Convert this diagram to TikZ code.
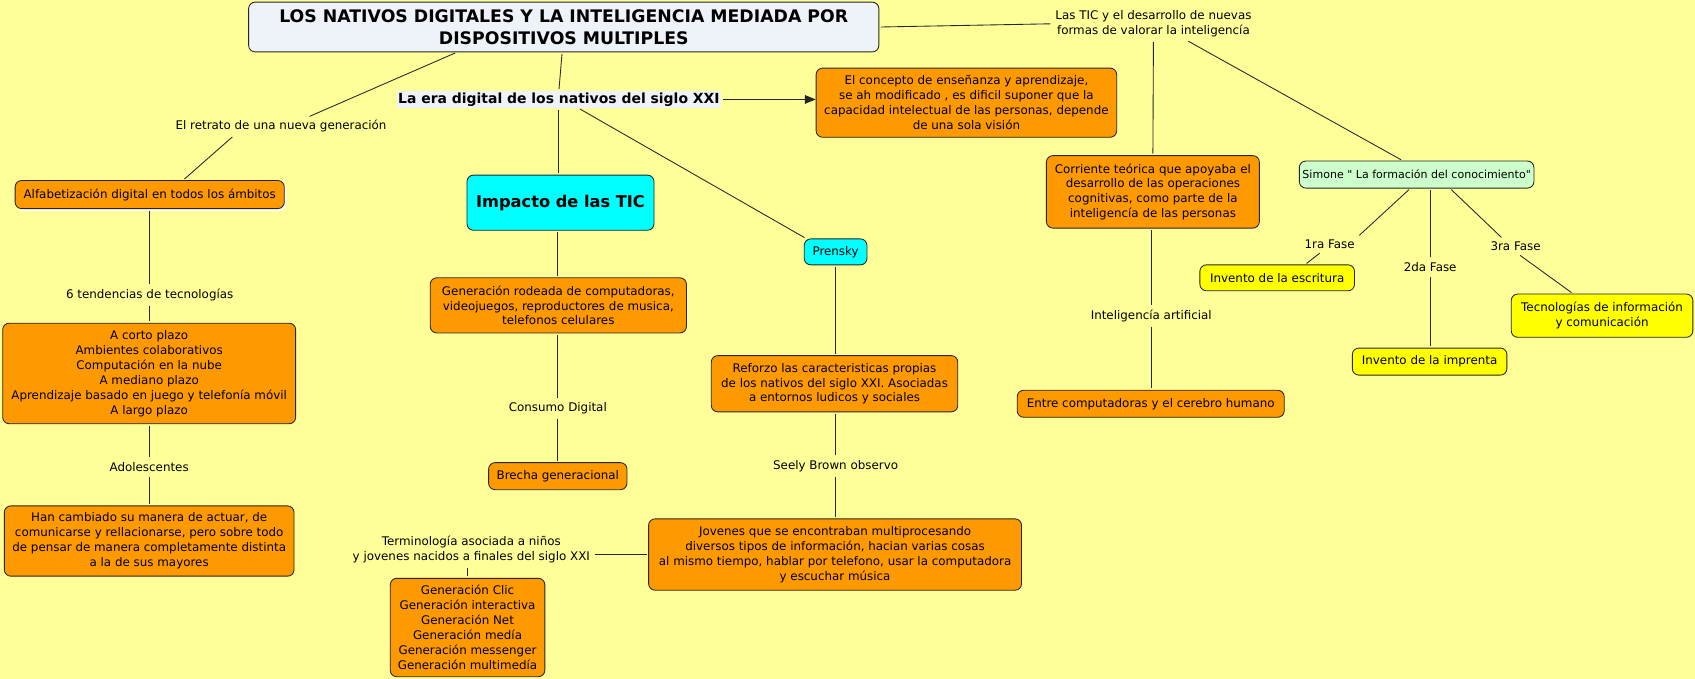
\documentclass[tikz,border=0pt]{standalone}
\usepackage{fontspec}
\setmainfont{DejaVu Sans}[Ligatures=TeXOff]
\usetikzlibrary{arrows.meta,shadows}
\definecolor{bg}{HTML}{FFFF99}
\definecolor{org}{HTML}{FF9900}
\definecolor{cy}{HTML}{00FFFF}
\definecolor{yel}{HTML}{FFFF00}
\definecolor{grn}{HTML}{CCFFCC}
\definecolor{ttl}{HTML}{EEF3FA}
\begin{document}
\begin{tikzpicture}[x=1pt,y=-1pt,
  every node/.style={font=\fontsize{11}{13.8}\selectfont, align=center, inner sep=0pt},
  cbox/.style={draw=black!85, line width=0.8pt, rounded corners=6pt, fill=org},
  lbl/.style={inner sep=3pt},
  conn/.style={draw=black!85, line width=0.8pt, shorten <=1.5pt, shorten >=1.5pt},
]
\fill[bg] (0,0) rectangle (1568,628);
\useasboundingbox (0,0) rectangle (1568,628);

\node[cbox, fill=ttl, minimum width=583pt, minimum height=46pt, font=\bfseries\fontsize{16}{20}\selectfont] (title) at (521.5,25) {LOS NATIVOS DIGITALES Y LA INTELIGENCIA MEDIADA POR\\DISPOSITIVOS MULTIPLES};
\node[fill=ttl, inner sep=1.5pt, font=\bfseries\fontsize{12.9}{15}\selectfont] (era) at (517,92) {La era digital de los nativos del siglo XXI};

\node[lbl] (retrato) at (260,117) {El retrato de una nueva generación};
\node[cbox, minimum width=249pt, minimum height=26pt, general shadow={fill=white, shadow xshift=2pt, shadow yshift=-2pt}] (alfa) at (138.5,180) {Alfabetización digital en todos los ámbitos};
\node[lbl] (tend) at (138.5,273) {6 tendencias de tecnologías};
\node[cbox, minimum width=271pt, minimum height=93pt] (corto) at (138,345.5) {A corto plazo\\Ambientes colaborativos\\Computación en la nube\\A mediano plazo\\Aprendizaje basado en juego y telefonía móvil\\A largo plazo};
\node[lbl] (adol) at (138,432) {Adolescentes};
\node[cbox, minimum width=268pt, minimum height=65pt] (han) at (138,500.5) {Han cambiado su manera de actuar, de\\comunicarse y rellacionarse, pero sobre todo\\de pensar de manera completamente distinta\\a la de sus mayores};

\node[cbox, fill=cy, minimum width=173pt, minimum height=51pt, font=\bfseries\fontsize{15}{18}\selectfont] (impacto) at (518.5,187.5) {Impacto de las TIC};
\node[cbox, minimum width=237pt, minimum height=51pt] (rodeada) at (516.5,282.5) {Generación rodeada de computadoras,\\videojuegos, reproductores de musica,\\telefonos celulares};
\node[lbl] (consumo) at (516,378) {Consumo Digital};
\node[cbox, minimum width=128pt, minimum height=25pt] (brecha) at (516,440.5) {Brecha generacional};

\node[cbox, fill=cy, minimum width=58pt, minimum height=24pt] (prensky) at (773,233) {Prensky};
\node[cbox, minimum width=228pt, minimum height=52pt] (reforzo) at (772,355) {Reforzo las caracteristicas propias\\de los nativos del siglo XXI. Asociadas\\a entornos ludicos y sociales};
\node[lbl] (seely) at (773,431) {Seely Brown observo};
\node[cbox, minimum width=345pt, minimum height=66pt] (jovenes) at (772.5,513) {Jovenes que se encontraban multiprocesando\\diversos tipos de información, hacian varias cosas\\al mismo tiempo, hablar por telefono, usar la computadora\\y escuchar música};
\node[lbl] (termino) at (436,508) {Terminología asociada a niños\\y jovenes nacidos a finales del siglo XXI};
\node[cbox, minimum width=143pt, minimum height=91pt] (clic) at (432.5,580.5) {Generación Clic\\Generación interactiva\\Generación Net\\Generación medía\\Generación messenger\\Generación multimedía};

\node[cbox, minimum width=278pt, minimum height=64pt] (concepto) at (894,95) {El concepto de enseñanza y aprendizaje,\\se ah modificado , es dificil suponer que la\\capacidad intelectual de las personas, depende\\de una sola visión};

\node[lbl] (lastic) at (1067,22) {Las TIC y el desarrollo de nuevas\\formas de valorar la inteligencía};
\node[cbox, minimum width=197pt, minimum height=67pt] (corriente) at (1066.5,177.5) {Corriente teórica que apoyaba el\\desarrollo de las operaciones\\cognitivas, como parte de la\\inteligencía de las personas};
\node[lbl] (ia) at (1065,292) {Inteligencía artificial};
\node[cbox, minimum width=247pt, minimum height=25pt] (entre) at (1064.5,373.5) {Entre computadoras y el cerebro humano};
\node[cbox, fill=grn, minimum width=217pt, minimum height=25pt, font=\fontsize{10.2}{13}\selectfont] (simone) at (1310.5,161.5) {Simone " La formación del conocimiento"};
\node[lbl] (f1) at (1230,226) {1ra Fase};
\node[lbl] (f2) at (1323,247) {2da Fase};
\node[lbl] (f3) at (1402,228) {3ra Fase};
\node[cbox, fill=yel, minimum width=143pt, minimum height=24pt] (escritura) at (1181.5,257) {Invento de la escritura};
\node[cbox, fill=yel, minimum width=143pt, minimum height=25pt] (imprenta) at (1322.5,334.5) {Invento de la imprenta};
\node[cbox, fill=yel, minimum width=168pt, minimum height=40pt] (tecno) at (1482,292) {Tecnologías de información\\y comunicación};

\draw[conn] ([xshift=-99pt]title.south) -- ([xshift=25pt]retrato.north);
\draw[conn] ([xshift=-44pt]retrato.south) -- ([xshift=31pt]alfa.north);
\draw[conn] ([xshift=-1.5pt]title.south) -- (era.north);
\draw[conn] (era.south) -- (era.south |- impacto.north);
\draw[conn, shorten >=0pt, -{Triangle[length=10pt,width=8pt]}] (era.east) -- (era.east -| concepto.west);
\draw[conn] ([xshift=18pt]era.south) -- ([xshift=2pt]prensky.north west);
\draw[conn] (tend.north |- alfa.south) -- (tend.north);
\draw[conn] (tend.south) -- (tend.south |- corto.north);
\draw[conn] (adol.north |- corto.south) -- (adol.north);
\draw[conn] (adol.south) -- (adol.south |- han.north);
\draw[conn] (consumo.north |- impacto.south) -- (consumo.north |- rodeada.north);
\draw[conn] (consumo.north |- rodeada.south) -- (consumo.north);
\draw[conn] (consumo.south) -- (consumo.south |- brecha.north);
\draw[conn] (prensky.south) -- (prensky.south |- reforzo.north);
\draw[conn] (seely.north |- reforzo.south) -- (seely.north);
\draw[conn] (seely.south) -- (seely.south |- jovenes.north);
\draw[conn] (jovenes.west) -- (jovenes.west -| termino.east);
\draw[conn] (clic.north |- termino.south) -- (clic.north);
\draw[conn] (title.east) -- (lastic.west);
\draw[conn] (lastic.south) -- (corriente.north);
\draw[conn] ([xshift=31pt]lastic.south) -- ([xshift=-13pt]simone.north);
\draw[conn] (ia.north |- corriente.south) -- (ia.north);
\draw[conn] (ia.south) -- (ia.south |- entre.north);
\draw[conn] ([xshift=-6pt]simone.south) -- (f1.north east);
\draw[conn] ([xshift=-8pt]f1.south) -- ([xshift=26pt]escritura.north);
\draw[conn] (f2.north |- simone.south) -- (f2.north);
\draw[conn] (f2.south) -- (f2.south |- imprenta.north);
\draw[conn] ([xshift=31pt]simone.south) -- ([xshift=-12pt]f3.north);
\draw[conn] ([xshift=3pt]f3.south) -- ([xshift=-27pt]tecno.north);
\end{tikzpicture}
\end{document}
